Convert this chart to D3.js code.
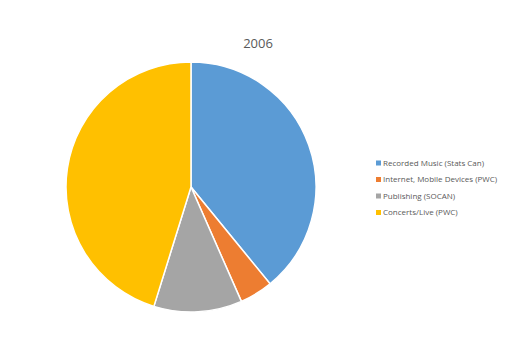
<!DOCTYPE html>
<html>
<head>
<meta charset="utf-8">
<script src="https://cdn.jsdelivr.net/npm/d3@7"></script>
<style>
  body { margin: 0; background: #fff; }
  svg { font-family: "Open Sans", "Liberation Sans", sans-serif; }
</style>
</head>
<body>
<div id="chart"></div>
<script>
const title = "2006";
const categories = ["Recorded Music (Stats Can)", "Internet, Mobile Devices (PWC)", "Publishing (SOCAN)", "Concerts/Live (PWC)"];
const values = [39.1, 4.3, 11.4, 45.2];
const colors = ["#5B9BD5", "#ED7D31", "#A5A5A5", "#FFC000"];

const width = 513, height = 342;
const cx = 191, cy = 187, radius = 125;

const svg = d3.select("#chart")
    .append("svg")
        .attr("width", width)
        .attr("height", height);

svg.append("text")
    .attr("x", 258)
    .attr("y", 48)
    .attr("text-anchor", "middle")
    .attr("font-size", 13)
    .attr("fill", "#595959")
    .text(title);

const color = d3.scaleOrdinal().domain(categories).range(colors);

const pie = d3.pie().sort(null).value(d => d.value);
const arc = d3.arc().innerRadius(0).outerRadius(radius);

const data = categories.map((c, i) => ({name: c, value: values[i]}));

const g = svg.append("g")
    .attr("transform", `translate(${cx},${cy})`);

g.selectAll("path")
    .data(pie(data))
    .enter().append("path")
    .attr("d", arc)
    .attr("fill", d => color(d.data.name))
    .attr("stroke", "#fff")
    .attr("stroke-width", 1.5);

// legend
const legend = svg.append("g")
    .attr("font-size", 8)
    .attr("fill", "#595959")
  .selectAll("g")
  .data(categories)
  .enter().append("g")
    .attr("transform", (d, i) => `translate(376,${163 + i * 16.5})`);

legend.append("rect")
    .attr("x", 0)
    .attr("y", -2.5)
    .attr("width", 5)
    .attr("height", 5)
    .attr("fill", d => color(d));

legend.append("text")
    .attr("x", 7)
    .attr("y", 0)
    .attr("dy", "0.35em")
    .attr("fill", "#595959")
    .text(d => d);
</script>
</body>
</html>
